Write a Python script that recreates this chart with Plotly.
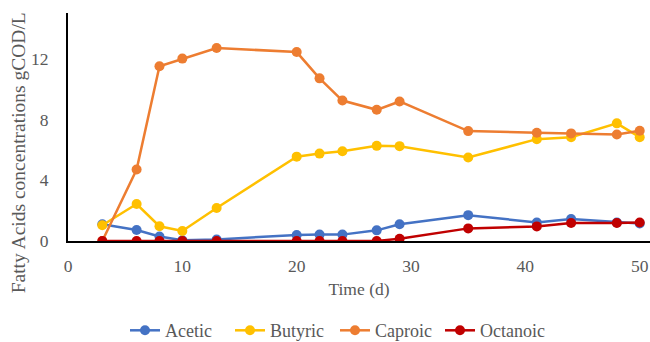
import plotly.graph_objects as go

days = [3, 6, 8, 10, 13, 20, 22, 24, 27, 29, 35, 41, 44, 48, 50]
acetic = [1.1, 0.72, 0.3, 0.05, 0.1, 0.4, 0.42, 0.42, 0.7, 1.1, 1.7, 1.22, 1.45, 1.22, 1.15]
butyric = [1.04, 2.43, 0.97, 0.66, 2.17, 5.55, 5.75, 5.9, 6.26, 6.24, 5.49, 6.7, 6.83, 7.74, 6.83]
caproic = [0.0, 4.7, 11.5, 12.0, 12.7, 12.43, 10.7, 9.24, 8.63, 9.18, 7.23, 7.12, 7.08, 7.01, 7.25]
octanoic = [0.0, 0.0, 0.0, 0.0, 0.0, 0.0, 0.0, 0.0, 0.0, 0.15, 0.83, 0.96, 1.18, 1.18, 1.22]
y_title = "Fatty Acids concentrations gCOD/L"

series = [("Acetic", acetic, "#4472C4"), ("Butyric", butyric, "#FFC000"),
          ("Caproic", caproic, "#ED7D31"), ("Octanoic", octanoic, "#C00000")]

fig = go.Figure()
for name, vals, col in series:
    fig.add_trace(go.Scatter(x=days, y=vals, name=name, mode="lines+markers",
                             line=dict(color=col, width=2.5),
                             marker=dict(color=col, size=10)))

FAM = "Liberation Serif"
font = dict(family=FAM, size=17.5, color="#595959")
lfont = dict(family=FAM, size=18, color="#595959")
yfont = dict(family=FAM, size=19.5, color="#595959")
fig.update_layout(
    width=650, height=342,
    margin=dict(l=68, r=0, t=13, b=101, autoexpand=False),
    paper_bgcolor="white", plot_bgcolor="white",
    font=font,
    showlegend=True,
    legend=dict(orientation="h", xref="paper", yref="paper",
                x=(335 - 68) / 582, xanchor="center", y=-0.393, yanchor="middle",
                font=lfont, itemwidth=30, tracegroupgap=0,
                entrywidth=60, entrywidthmode="pixels"),
    xaxis=dict(range=[0, 50.9], tickvals=[0, 10, 20, 30, 40, 50], showgrid=False,
               zeroline=False, showline=True, linecolor="black", linewidth=2,
               ticks="", ticklabelstandoff=8, tickfont=font,
               title=dict(text="Time (d)", font=font, standoff=8)),
    yaxis=dict(range=[0, 15], tickvals=[0, 4, 8, 12], showgrid=False,
               zeroline=False, showline=True, linecolor="black", linewidth=2,
               ticks="", ticklabelstandoff=14, tickfont=font),
    annotations=[dict(text=y_title, textangle=-90, xref="paper", yref="paper",
                      x=-(68 - 18) / 582, y=(240.5 - 153) / 227.5,
                      xanchor="center", yanchor="middle", showarrow=False,
                      font=yfont)],
)
fig.write_html("out.html")
